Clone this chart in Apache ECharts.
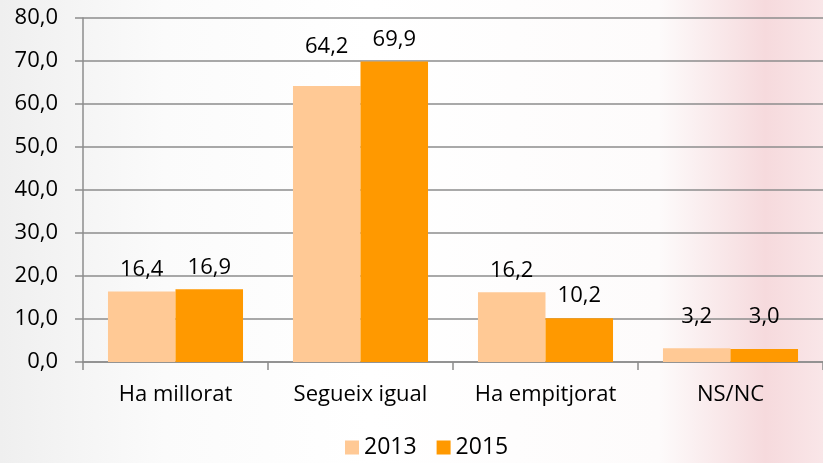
<!DOCTYPE html>
<html>
<head>
<meta charset="utf-8">
<script src="https://cdn.jsdelivr.net/npm/echarts@6/dist/echarts.min.js"></script>
<style>
  html, body { margin: 0; padding: 0; }
  body {
    width: 823px; height: 463px;
    background: linear-gradient(to right, #efefef 0%, #fbfbfb 20%, #ffffff 45%, #fdfbfb 80%, #f6dadd 93%, #f9e6e8 100%);
  }
  #chart { width: 823px; height: 463px; }
</style>
</head>
<body>
<div id="chart"></div>
<script>
// categories and values (percent)
var categories = ['Ha millorat', 'Segueix igual', 'Ha empitjorat', 'NS/NC'];
var years = ['2013', '2015'];
var values2013 = [16.4, 64.2, 16.2, 3.2];
var values2015 = [16.9, 69.9, 10.2, 3.0];
// small manual label nudges, as in the original
var labelLift2013 = [0, -17, 0, -10];
var labelLift2015 = [0, 0, 0, -10];

var FONT = 'Open Sans';
var FSIZE = 22;

function fmt(v) {
    return v.toFixed(1).replace('.', ',');
}

function buildData(vals, lifts) {
    return vals.map(function (v, i) {
        var item = { value: v };
        if (lifts[i]) item.label = { offset: [0, lifts[i]] };
        return item;
    });
}

var myChart = echarts.init(document.getElementById('chart'));

var labelStyle = {
    show: true,
    position: 'top',
    distance: 11,
    color: '#000',
    fontFamily: FONT,
    fontSize: FSIZE,
    formatter: function (p) { return fmt(p.value); }
};

var option = {
    backgroundColor: 'transparent',
    animation: false,
    grid: { left: 83, right: -4, top: 18, bottom: 101 },
    legend: {
        data: years,
        bottom: -1,
        left: 340,
        itemWidth: 14,
        itemHeight: 14,
        itemGap: 20,
        itemStyle: { borderWidth: 0 },
        icon: 'rect',
        textStyle: { color: '#000', fontFamily: FONT, fontSize: 23 }
    },
    xAxis: {
        type: 'category',
        data: categories,
        axisLine: { lineStyle: { color: '#8c8c8c', width: 1.5 } },
        axisTick: { show: true, length: 8, lineStyle: { color: '#8c8c8c', width: 1.5 } },
        axisLabel: { color: '#000', fontFamily: FONT, fontSize: FSIZE, margin: 22 }
    },
    yAxis: {
        type: 'value',
        min: 0,
        max: 80,
        interval: 10,
        axisLine: { show: true, lineStyle: { color: '#8c8c8c', width: 1.5 } },
        axisTick: { show: true, length: 8, lineStyle: { color: '#8c8c8c', width: 1.5 } },
        splitLine: { lineStyle: { color: '#8c8c8c', width: 1.5 } },
        axisLabel: {
            color: '#000', fontFamily: FONT, fontSize: FSIZE, margin: 25,
            formatter: function (v) { return fmt(v); }
        }
    },
    series: [
        {
            name: years[0],
            type: 'bar',
            data: buildData(values2013, labelLift2013),
            itemStyle: { color: '#FFC995' },
            barGap: '0%',
            barCategoryGap: '27%',
            label: labelStyle
        },
        {
            name: years[1],
            type: 'bar',
            data: buildData(values2015, labelLift2015),
            itemStyle: { color: '#FF9900' },
            label: labelStyle
        }
    ]
};

myChart.setOption(option);
</script>
</body>
</html>
